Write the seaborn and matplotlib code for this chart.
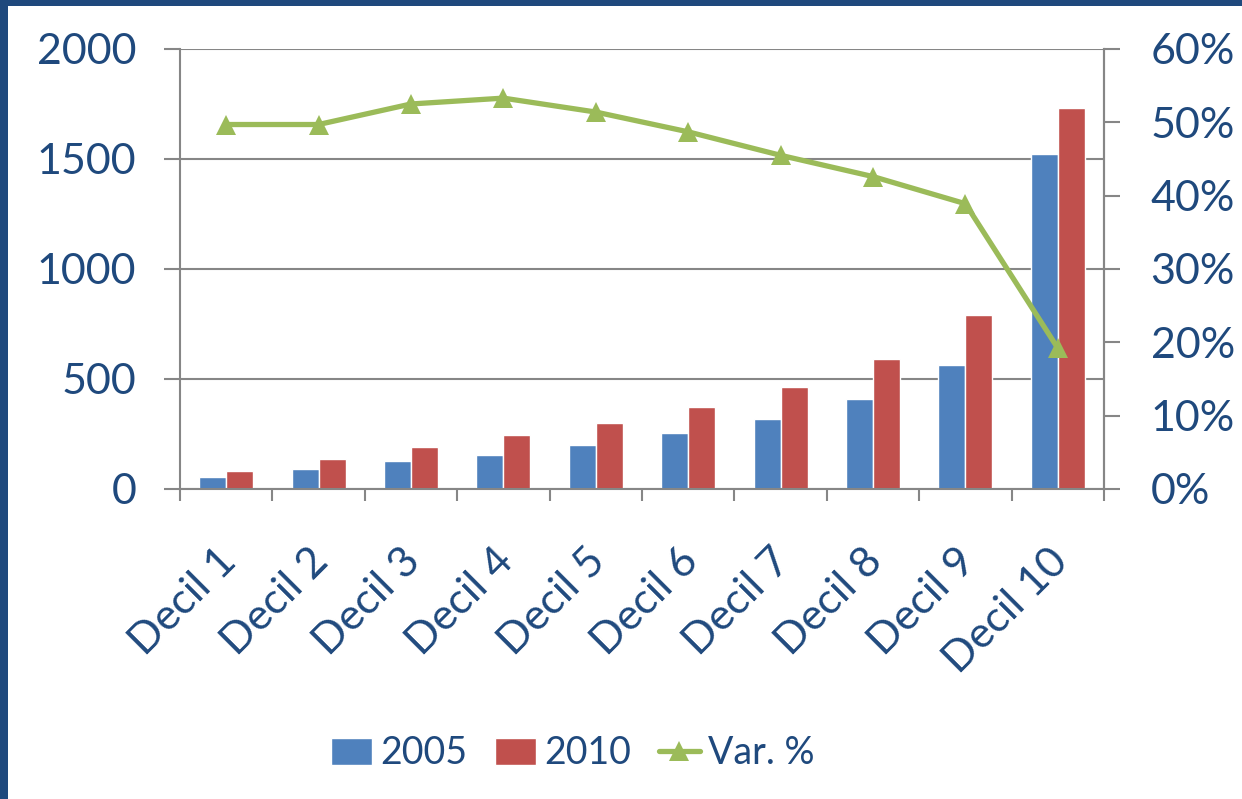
import matplotlib
matplotlib.use("Agg")
import matplotlib.pyplot as plt
from matplotlib.patches import Rectangle
from matplotlib.ticker import PercentFormatter, FixedLocator
from matplotlib.transforms import ScaledTranslation
import numpy as np
import pandas as pd
import seaborn as sns

# data
deciles = ["Decil 1", "Decil 2", "Decil 3", "Decil 4", "Decil 5",
           "Decil 6", "Decil 7", "Decil 8", "Decil 9", "Decil 10"]
values_2005 = [56, 92, 129, 156, 201, 256, 320, 410, 565, 1523]
values_2010 = [83, 138, 192, 247, 301, 374, 465, 592, 792, 1732]
var_pct = [49.7, 49.7, 52.5, 53.3, 51.4, 48.7, 45.5, 42.6, 38.9, 19.2]

blue = "#4F81BD"
red = "#C0504D"
green = "#9BBB59"
text_col = "#1F497D"
axis_col = "#868686"

sns.set_theme(style="white")
plt.rcParams["font.family"] = ["Lato", "DejaVu Sans"]

df = pd.DataFrame({
    "decil": deciles * 2,
    "valor": values_2005 + values_2010,
    "anio": ["2005"] * 10 + ["2010"] * 10,
})

fig = plt.figure(figsize=(12.42, 7.99), dpi=100)
ax = fig.add_axes([0.1449, 0.388, 0.7440, 0.5507])

sns.barplot(data=df, x="decil", y="valor", hue="anio", palette=[blue, red],
            width=0.585, saturation=1, dodge=True, ax=ax, legend=False)

ax.set_ylim(0, 2000)
ax.set_yticks([0, 500, 1000, 1500, 2000])
ax.yaxis.grid(True, color=axis_col, linewidth=1.5)
ax.set_axisbelow(True)
ax.set_xlim(-0.5, 9.5)
ax.set_xlabel("")
ax.set_ylabel("")

for side in ["left", "bottom", "right"]:
    ax.spines[side].set_color(axis_col)
    ax.spines[side].set_linewidth(1.5)
ax.spines["top"].set_visible(False)

ax.tick_params(axis="y", direction="out", length=11.5, width=1.5, color=axis_col,
               labelsize=31, labelcolor=text_col, pad=20, left=True)
ax.tick_params(axis="x", which="major", length=0, labelsize=31,
               labelcolor=text_col, pad=38)
ax.xaxis.set_minor_locator(FixedLocator(np.arange(-0.5, 10, 1)))
ax.tick_params(axis="x", which="minor", direction="out", length=8.5, width=1.5,
               color=axis_col, bottom=True)
shift = ScaledTranslation(-0.1, 0, fig.dpi_scale_trans)
for lbl in ax.get_xticklabels():
    lbl.set_rotation(45)
    lbl.set_ha("right")
    lbl.set_va("top")
    lbl.set_rotation_mode("anchor")
    lbl.set_transform(lbl.get_transform() + shift)

ax2 = ax.twinx()
sns.lineplot(x=np.arange(len(deciles)), y=var_pct, ax=ax2, color=green,
             linewidth=3.8, marker="^", markersize=15, markeredgewidth=0)
ax2.set_ylim(0, 60)
ax2.set_yticks(np.arange(0, 61, 10))
ax2.yaxis.set_major_formatter(PercentFormatter(decimals=0))
ax2.set_xlim(-0.5, 9.5)
ax2.tick_params(axis="y", direction="out", length=11.5, width=1.5, color=axis_col,
                labelsize=31, labelcolor=text_col, pad=22, right=True)
for side in ["top", "left", "bottom"]:
    ax2.spines[side].set_visible(False)
ax2.spines["right"].set_color(axis_col)
ax2.spines["right"].set_linewidth(1.5)
ax2.set_ylabel("")

# legend
handles = [
    Rectangle((0, 0), 1, 1, facecolor=blue),
    Rectangle((0, 0), 1, 1, facecolor=red),
    plt.Line2D([], [], color=green, linewidth=3.8, marker="^", markersize=15,
               markeredgewidth=0),
]
fig.legend(handles, ["2005", "2010", "Var. %"], loc="center",
           bbox_to_anchor=(0.461, 0.057), ncol=3, frameon=False, fontsize=27,
           labelcolor=text_col, handlelength=1.1, handleheight=0.75,
           handletextpad=0.2, columnspacing=0.75)

# slide frame
fig.patches.append(Rectangle((0, 0), 0.0065, 1, transform=fig.transFigure,
                             facecolor=text_col, edgecolor="none"))
fig.patches.append(Rectangle((0, 0.9925), 1, 0.0075, transform=fig.transFigure,
                             facecolor=text_col, edgecolor="none"))

fig.savefig("out.png", dpi=100)
